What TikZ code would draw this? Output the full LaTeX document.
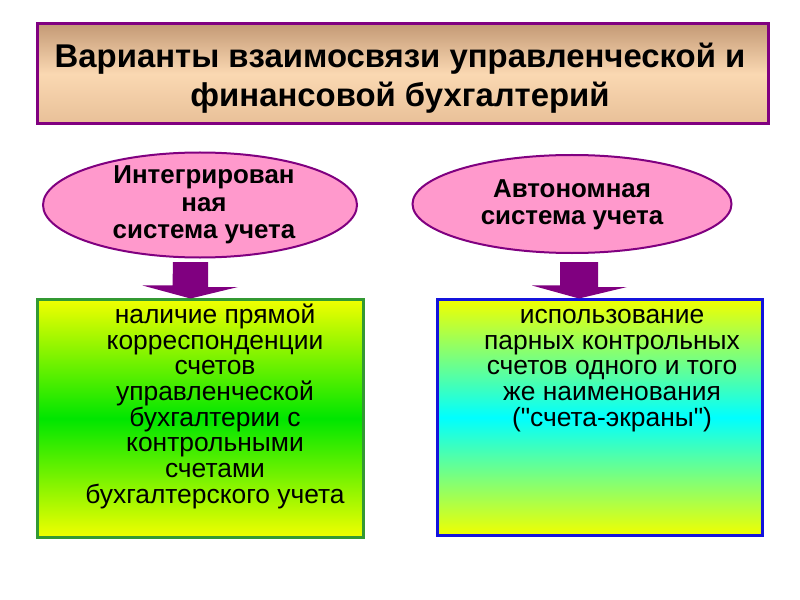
\documentclass[tikz,border=0pt]{standalone}
\usepackage{fontspec}
\setmainfont{Liberation Sans}[Ligatures=TeXOff]
\usetikzlibrary{shapes.geometric}
\definecolor{purp}{RGB}{128,0,128}
\definecolor{tanA}{RGB}{196,154,118}
\definecolor{tanB}{RGB}{250,216,178}
\definecolor{tanC}{RGB}{232,192,152}
\definecolor{pinkf}{RGB}{255,153,204}
\definecolor{grnb}{RGB}{51,153,51}
\definecolor{blub}{RGB}{20,20,220}
\definecolor{ylw}{RGB}{240,255,0}
\definecolor{grn}{RGB}{0,230,0}
\definecolor{cyn}{RGB}{0,255,255}
\tikzset{
  titlebox/.style={draw=purp, line width=3bp, top color=tanA, bottom color=tanC, middle color=tanB, rectangle, inner sep=0pt},
  oval/.style={ellipse, draw=purp, line width=2bp, fill=pinkf, inner sep=0pt},
  leftbox/.style={rectangle, draw=grnb, line width=3bp, top color=ylw, bottom color=ylw, middle color=grn, inner sep=0pt},
  rightbox/.style={rectangle, draw=blub, line width=3bp, top color=ylw, bottom color=ylw, middle color=cyn, inner sep=0pt},
  titletext/.style={font=\bfseries\fontsize{33}{40}\selectfont, align=center, inner sep=0pt, anchor=base},
  ovaltext/.style={font=\bfseries\fontsize{26}{28}\selectfont, align=center, inner sep=0pt, anchor=base},
  boxtext/.style={font=\fontsize{26.5}{25.7}\selectfont, align=center, inner sep=0pt, anchor=base},
  blockarrow/.style={fill=purp},
}
\begin{document}
\begin{tikzpicture}[x=1bp,y=-1bp]
\useasboundingbox (0,0) rectangle (800,600);
\fill[white] (0,0) rectangle (800,600);
% title
\node[titlebox, minimum width=730bp, minimum height=100bp] (title) at (403,74) {};
\node[titletext] (titlet) at (400,107) {Варианты взаимосвязи управленческой и\\финансовой бухгалтерий};
% ellipses
\node[oval, minimum width=314bp, minimum height=105bp] (e1) at (200,205) {};
\node[ovaltext] (e1t) at (204,239) {Интегрирован\\ная\\система учета};
\node[oval, minimum width=319bp, minimum height=98bp] (e2) at (572,204) {};
\node[ovaltext] (e2t) at (572,225) {Автономная\\система учета};
% boxes
\node[leftbox, minimum width=325bp, minimum height=237bp] (b1) at (200.5,418.5) {};
\node[rightbox, minimum width=325bp, minimum height=235bp] (b2) at (599.5,417.5) {};
\node[boxtext] (b1t) at (215,503) {наличие прямой\\корреспонденции\\счетов\\управленческой\\бухгалтерии с\\контрольными\\счетами\\бухгалтерского учета};
\node[boxtext] (b2t) at (612,426) {использование\\парных контрольных\\счетов одного и того\\же наименования\\("счета-экраны")};
% block arrows
\coordinate (a1) at (190.5,262);
\coordinate (a2) at (579,262);
\fill[blockarrow] (a1) ++(-17.5,0) -- ++(35,0) -- ++(0,25) -- ++(30,0) -- (a1 |- b1.north) -- ++(-48,-13) -- ++(30,0) -- cycle;
\fill[blockarrow] (a2) ++(-19,0) -- ++(38,0) -- ++(0,25) -- ++(29,0) -- (a2 |- b2.north) -- ++(-47,-13) -- ++(28,0) -- cycle;
\end{tikzpicture}
\end{document}
